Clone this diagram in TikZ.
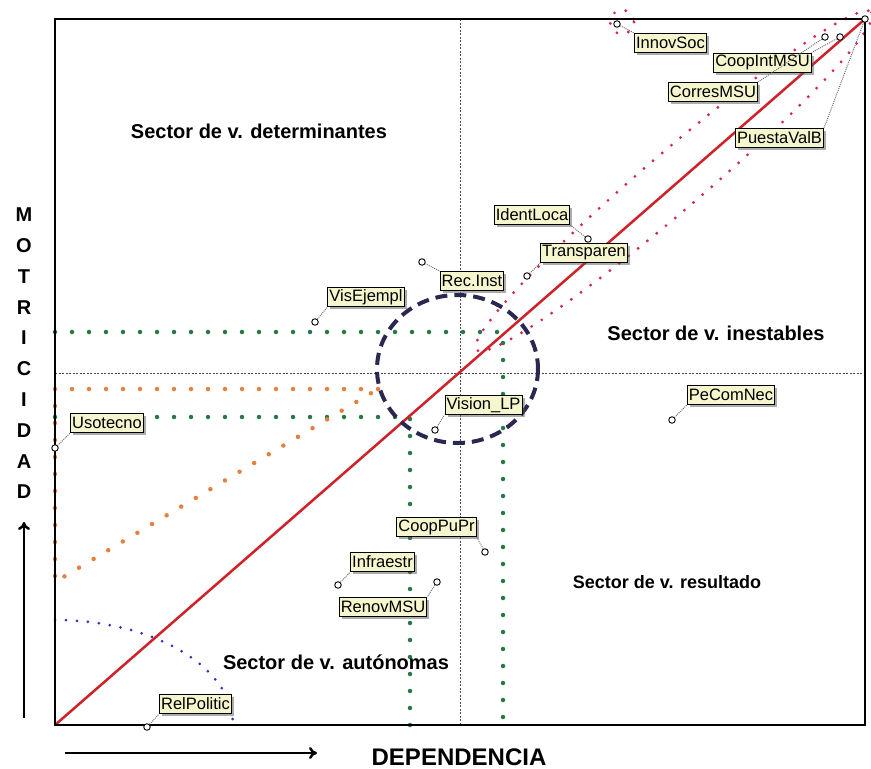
\documentclass[tikz,border=0pt]{standalone}
\usepackage{fontspec}
\setmainfont{Liberation Sans}
\usetikzlibrary{shadows,arrows.meta}

\definecolor{boxfill}{RGB}{246,246,206}
\definecolor{diagred}{RGB}{208,32,40}
\definecolor{dotgreen}{RGB}{40,120,70}
\definecolor{dotorange}{RGB}{228,128,64}
\definecolor{dotblue}{RGB}{50,50,180}
\definecolor{dotpink}{RGB}{212,40,80}
\definecolor{navy}{RGB}{40,40,80}

\tikzset{every picture/.style={line width=0.75pt}}
\tikzset{
  varbox/.style={draw=black, line width=1pt, fill=boxfill, inner xsep=1.5pt, inner ysep=0pt,
    minimum height=19pt, font=\fontsize{16.5}{18}\selectfont,
    drop shadow={shadow xshift=2.5pt, shadow yshift=-2.5pt, fill=black!65}},
  varpin/.style={circle, draw=black, fill=white, line width=0.9pt, inner sep=0pt, minimum size=6.5pt},
  leader/.style={densely dotted, black!55, line width=1pt},
  sectorlbl/.style={font=\bfseries\fontsize{20}{24}\selectfont},
  axislbl/.style={font=\bfseries\fontsize{24}{28}\selectfont, inner sep=0pt},
  greendots/.style={draw=dotgreen, line width=4.5pt, line cap=round, dash pattern=on 0pt off 17pt},
  orangedots/.style={draw=dotorange, line width=4.5pt, line cap=round, dash pattern=on 0pt off 17pt},
  bluedots/.style={draw=dotblue, line width=3pt, line cap=round, dash pattern=on 0pt off 11pt},
  pinkdots/.style={draw=dotpink, line width=3.2pt, line cap=round, dash pattern=on 0pt off 12pt},
}

\begin{document}
\begin{tikzpicture}[x=1pt,y=1pt,yscale=-1,xscale=1]
\useasboundingbox (0,0) rectangle (871,769);

% Quadrant lines
\draw [black!70, line width=0.6pt, dash pattern=on 2pt off 1.5pt] (460,19) -- (460,725);
\draw [black!70, line width=0.6pt, dash pattern=on 2pt off 1.5pt] (55,373) -- (865,373);

% Dotted groups
\draw [greendots] (55,332) -- (503,332) -- (503,725);
\draw [greendots] (55,417) -- (410,417) -- (410,725);
\draw [orangedots] (378,389) -- (55,389) -- (55,582) -- cycle;
\draw [bluedots] (55,620) arc [start angle=270, end angle=360, x radius=178, y radius=105];
\draw [pinkdots, rotate around={-40.5:(674,181)}] (674,181) ellipse [x radius=260, y radius=29];
\draw [pinkdots] (622,22) circle [radius=12];

% Diagonal
\draw [diagred, line width=2.5pt] (55,725) -- (865,19);

% Circle of unstable zone
\draw [navy, line width=4pt, dash pattern=on 12pt off 7pt] (457.5,369) ellipse [x radius=80.5, y radius=74];

% Frame
\draw [black, line width=1.3pt] (55,19) rectangle (865,725);

% Markers
\node [varpin] (p-innov) at (617,24) {};
\node [varpin] (p-coopint) at (840,37) {};
\node [varpin] (p-corres) at (825,37) {};
\node [varpin] (p-puesta) at (865,19) {};
\node [varpin] (p-ident) at (588,239) {};
\node [varpin] (p-transp) at (527,276) {};
\node [varpin] (p-recinst) at (422,262) {};
\node [varpin] (p-visej) at (315,322) {};
\node [varpin] (p-vision) at (435,430) {};
\node [varpin] (p-pecom) at (672,420) {};
\node [varpin] (p-usotec) at (55,448) {};
\node [varpin] (p-cooppu) at (485,552) {};
\node [varpin] (p-infra) at (338,585) {};
\node [varpin] (p-renov) at (437,582) {};
\node [varpin] (p-relpol) at (147,727) {};

% Variable boxes
\node [varbox] (innov) at (670.5,43) {InnovSoc};
\node [varbox] (coopint) at (762.5,62.5) {CoopIntMSU};
\node [varbox] (corres) at (713,92) {CorresMSU};
\node [varbox] (puesta) at (779.5,138) {PuestaValB};
\node [varbox] (ident) at (532,215) {IdentLoca};
\node [varbox] (transp) at (584,253) {Transparen};
\node [varbox] (recinst) at (472,281) {Rec.Inst};
\node [varbox] (visej) at (366,297) {VisEjempl};
\node [varbox] (vision) at (483.5,405) {Vision\_LP};
\node [varbox] (pecom) at (731,395) {PeComNec};
\node [varbox] (usotec) at (107,423) {Usotecno};
\node [varbox] (cooppu) at (436.5,527) {CoopPuPr};
\node [varbox] (infra) at (382.5,562) {Infraestr};
\node [varbox] (renov) at (383,607) {RenovMSU};
\node [varbox] (relpol) at (195.5,704) {RelPolitic};

% Leaders
\draw [leader] (p-innov) -- (innov.north west);
\draw [leader] (p-coopint) -- (coopint.north east);
\draw [leader] (p-corres) -- (corres.north east);
\draw [leader] (p-puesta) -- (puesta.north east);
\draw [leader] (p-ident) -- (ident.south east);
\draw [leader] (p-transp) -- (transp.south west);
\draw [leader] (p-recinst) -- (recinst.north west);
\draw [leader] (p-visej) -- (visej.south west);
\draw [leader] (p-vision) -- (vision.south west);
\draw [leader] (p-pecom) -- (pecom.south west);
\draw [leader] (p-usotec) -- (usotec.south west);
\draw [leader] (p-cooppu) -- (cooppu.south east);
\draw [leader] (p-infra) -- (infra.south west);
\draw [leader] (p-renov) -- (renov.north east);
\draw [leader] (p-relpol) -- (relpol.south west);

% Sector labels
\node [sectorlbl] (s-det) at (259,131) {Sector de v. determinantes};
\node [sectorlbl] (s-ines) at (716,333) {Sector de v. inestables};
\node [sectorlbl, font=\bfseries\fontsize{18}{22}\selectfont] (s-res) at (667,582) {Sector de v. resultado};
\node [sectorlbl] (s-aut) at (336,662) {Sector de v. autónomas};

% Axis titles
\node [font=\bfseries\fontsize{20}{30.8}\selectfont, align=center] (motricidad) at (24,353.5)
  {M\\O\\T\\R\\I\\C\\I\\D\\A\\D};
\node [axislbl] (dependencia) at (459,757) {DEPENDENCIA};
\coordinate (up-a) at (24,718);
\coordinate (up-b) at (24,522);
\coordinate (rt-a) at (65,753);
\coordinate (rt-b) at (317,753);
\draw [-{To[length=8pt,width=12pt]}, line width=2.5pt] (up-a) -- (up-b);
\draw [-{To[length=8pt,width=12pt]}, line width=2.5pt] (rt-a) -- (rt-b);

\end{tikzpicture}
\end{document}
